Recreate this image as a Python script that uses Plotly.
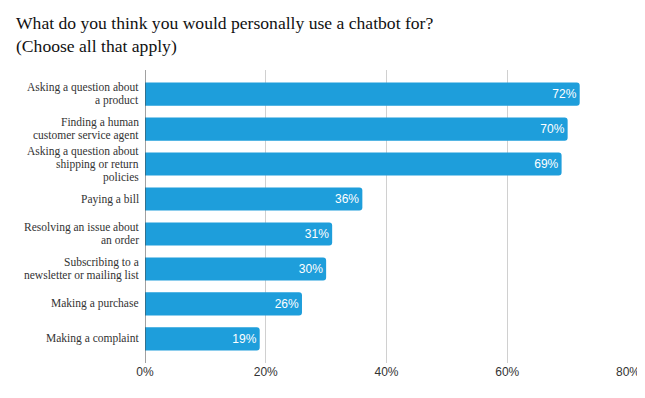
import plotly.graph_objects as go

categories = [
    "Asking a question about<br>a product",
    "Finding a human<br>customer service agent",
    "Asking a question about<br>shipping or return<br>policies",
    "Paying a bill",
    "Resolving an issue about<br>an order",
    "Subscribing to a<br>newsletter or mailing list",
    "Making a purchase",
    "Making a complaint",
]
values = [0.72, 0.70, 0.69, 0.36, 0.31, 0.30, 0.26, 0.19]
labels = ["72%", "70%", "69%", "36%", "31%", "30%", "26%", "19%"]
x_ticks = [0, 0.2, 0.4, 0.6, 0.8]
x_tick_labels = ["0%", "20%", "40%", "60%", "80%"]

# page body has an 8px default margin; size the figure to fit the 645x398 window
W, H = 637, 390
L, R, T, B = 137, 17, 62, 35
PW, PH = W - L - R, H - T - B

fig = go.Figure(go.Bar(
    x=values, y=categories, orientation="h",
    marker=dict(color="#1e9edb", cornerradius=3, line=dict(width=0)),
    text=labels, textposition="inside", insidetextanchor="end",
    textfont=dict(family="Liberation Sans, Arial", size=12, color="white"),
    cliponaxis=False, width=0.66,
))

annotations = []
for cat in categories:
    lines = cat.split("<br>")
    n = len(lines)
    for j, ln in enumerate(lines):
        annotations.append(dict(
            text=ln, xref="paper", yref="y", x=0, y=cat,
            xanchor="right", yanchor="middle", xshift=-5, borderpad=0,
            yshift=((n - 1) / 2 - j) * 13, showarrow=False,
            font=dict(family="Liberation Serif, Georgia, serif", size=11.5, color="#333"),
        ))

annotations.append(dict(
    text="What do you think you would personally use a chatbot for?<br>(Choose all that apply)",
    xref="paper", yref="paper", x=-(L - 6) / PW, y=1 + (T - 3) / PH,
    xanchor="left", yanchor="top", align="left", showarrow=False,
    font=dict(family="Liberation Serif, Georgia, serif", size=17.6, color="#111"),
))

fig.update_layout(
    width=W, height=H,
    margin=dict(l=L, r=R, t=T, b=B),
    plot_bgcolor="white", paper_bgcolor="white",
    showlegend=False,
    xaxis=dict(
        range=[0, 0.8], tickvals=x_ticks, ticktext=x_tick_labels,
        showgrid=True, gridcolor="#d0d0d0", gridwidth=1,
        zeroline=False, showline=False, ticks="", automargin=False,
        tickfont=dict(family="Liberation Sans, Arial", size=12, color="#333"),
    ),
    yaxis=dict(
        range=[7.69, -0.69], showgrid=False, zeroline=False,
        showline=False, ticks="", showticklabels=False, automargin=False,
    ),
    shapes=[dict(type="line", xref="x", yref="paper", x0=0, x1=0, y0=0, y1=1,
                 line=dict(color="#444", width=1))],
    annotations=annotations,
)

fig.write_html("out.html")
